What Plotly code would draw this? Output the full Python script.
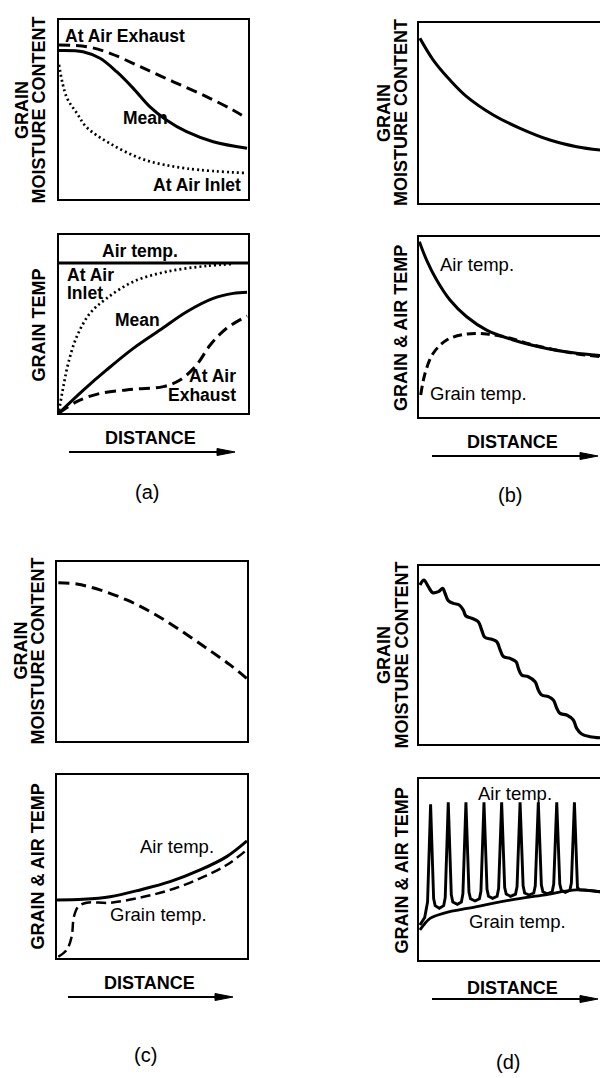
import plotly.graph_objects as go

W, H = 600, 1078

# ---------------- data (relative distance 0..1, relative level 0..1) ----------------
# (a) grain moisture content
a_mc_exhaust_x = [0.0, 0.147, 0.27, 0.43, 0.605, 0.78, 0.92, 0.995]
a_mc_exhaust_y = [0.86, 0.851, 0.814, 0.739, 0.655, 0.572, 0.497, 0.45]
a_mc_mean_x = [0.0, 0.127, 0.217, 0.305, 0.393, 0.48, 0.57, 0.675, 0.816, 0.995]
a_mc_mean_y = [0.83, 0.823, 0.786, 0.711, 0.618, 0.516, 0.44, 0.376, 0.32, 0.283]
a_mc_inlet_x = [0.0, 0.04, 0.094, 0.147, 0.27, 0.45, 0.68, 0.995]
a_mc_inlet_y = [0.75, 0.57, 0.48, 0.40, 0.31, 0.22, 0.17, 0.145]
# (a) grain temperature
a_air_x = [0.0, 1.0]
a_air_y = [0.843, 0.843]
a_t_inlet_x = [0.0, 0.023, 0.049, 0.094, 0.164, 0.252, 0.393, 0.57, 0.78, 0.92]
a_t_inlet_y = [0.013, 0.148, 0.279, 0.429, 0.56, 0.644, 0.738, 0.794, 0.826, 0.837]
a_t_mean_x = [0.0, 0.129, 0.252, 0.393, 0.534, 0.676, 0.816, 0.922, 0.995]
a_t_mean_y = [0.0, 0.129, 0.242, 0.363, 0.466, 0.569, 0.644, 0.672, 0.678]
a_t_exhaust_x = [0.0, 0.094, 0.217, 0.393, 0.552, 0.64, 0.728, 0.80, 0.887, 0.995]
a_t_exhaust_y = [0.0, 0.064, 0.11, 0.133, 0.148, 0.185, 0.27, 0.382, 0.476, 0.545]

# (b)
b_mc_x = [0.005, 0.075, 0.163, 0.251, 0.391, 0.532, 0.689, 0.83, 0.953]
b_mc_y = [0.915, 0.794, 0.683, 0.591, 0.489, 0.415, 0.35, 0.313, 0.294]
b_air_x = [0.002, 0.04, 0.093, 0.163, 0.251, 0.356, 0.496, 0.672, 0.812, 0.953]
b_air_y = [0.974, 0.872, 0.761, 0.65, 0.557, 0.483, 0.428, 0.381, 0.357, 0.341]
b_grain_x = [0.009, 0.032, 0.075, 0.146, 0.251, 0.356, 0.461, 0.602, 0.812, 0.953]
b_grain_y = [0.122, 0.243, 0.354, 0.428, 0.461, 0.461, 0.443, 0.40, 0.354, 0.335]

# (c)
c_mc_x = [0.007, 0.104, 0.226, 0.367, 0.507, 0.647, 0.788, 0.911, 0.998]
c_mc_y = [0.884, 0.877, 0.844, 0.788, 0.713, 0.62, 0.518, 0.425, 0.35]
c_air_x = [0.0, 0.138, 0.279, 0.437, 0.595, 0.753, 0.893, 1.0]
c_air_y = [0.317, 0.321, 0.335, 0.372, 0.417, 0.481, 0.554, 0.64]
c_grain_x = [0.007, 0.051, 0.077, 0.089, 0.112, 0.156, 0.279, 0.437, 0.595, 0.753, 0.893, 0.998]
c_grain_y = [0.007, 0.044, 0.116, 0.226, 0.28, 0.302, 0.302, 0.33, 0.372, 0.435, 0.508, 0.59]

# (d)
d_mc_x = [0.005, 0.026, 0.049, 0.072, 0.102, 0.125, 0.137, 0.154, 0.181, 0.212, 0.233,
          0.247, 0.277, 0.312, 0.330, 0.347, 0.383, 0.409, 0.426, 0.444, 0.479, 0.511,
          0.523, 0.540, 0.575, 0.611, 0.628, 0.646, 0.681, 0.707, 0.725, 0.742, 0.777,
          0.812, 0.830, 0.856, 0.900, 0.953]
d_mc_y = [0.893, 0.921, 0.884, 0.850, 0.856, 0.875, 0.847, 0.805, 0.790, 0.781, 0.753,
          0.719, 0.706, 0.687, 0.640, 0.599, 0.588, 0.575, 0.532, 0.491, 0.481, 0.462,
          0.425, 0.388, 0.378, 0.350, 0.303, 0.275, 0.266, 0.247, 0.201, 0.172, 0.163,
          0.135, 0.088, 0.056, 0.041, 0.035]
d_air_x = [0.005, 0.030, 0.045, 0.061, 0.077,
           0.085, 0.107, 0.130, 0.138, 0.154, 0.170,
           0.178, 0.202, 0.223, 0.231, 0.247, 0.263,
           0.271, 0.295, 0.318, 0.326, 0.342, 0.358,
           0.366, 0.388, 0.411, 0.419, 0.435, 0.451,
           0.459, 0.482, 0.508, 0.516, 0.532, 0.548,
           0.556, 0.579, 0.604, 0.612, 0.628, 0.644,
           0.652, 0.675, 0.701, 0.709, 0.725, 0.741,
           0.749, 0.770, 0.794, 0.802, 0.818, 0.834,
           0.845, 0.870, 0.953]
d_air_y = [0.193, 0.235, 0.32, 0.86, 0.34,
           0.30, 0.286, 0.30, 0.345, 0.871, 0.36,
           0.32, 0.308, 0.32, 0.365, 0.871, 0.375,
           0.338, 0.326, 0.338, 0.38, 0.871, 0.39,
           0.352, 0.341, 0.352, 0.395, 0.871, 0.40,
           0.364, 0.352, 0.364, 0.405, 0.871, 0.41,
           0.37, 0.359, 0.37, 0.41, 0.871, 0.415,
           0.377, 0.366, 0.377, 0.42, 0.871, 0.42,
           0.385, 0.374, 0.385, 0.425, 0.871, 0.40,
           0.388, 0.387, 0.377]
d_grain_x = [0.005, 0.032, 0.058, 0.128, 0.304, 0.479, 0.654, 0.830, 0.953]
d_grain_y = [0.166, 0.203, 0.230, 0.258, 0.295, 0.331, 0.359, 0.387, 0.377]

# ---------------- layout geometry (pixels) ----------------
FONT = "Liberation Sans, Arial, Helvetica, sans-serif"
panels = [
    dict(left=59, right=248, top=20, bottom=199),    # a top
    dict(left=59, right=248, top=235, bottom=413),   # a bottom
    dict(left=419, right=609, top=23, bottom=203),   # b top
    dict(left=419, right=609, top=237, bottom=417),  # b bottom
    dict(left=57, right=247, top=562, bottom=741),   # c top
    dict(left=57, right=247, top=775, bottom=958),   # c bottom
    dict(left=419, right=609, top=566, bottom=744),  # d top
    dict(left=419, right=609, top=779, bottom=960),  # d bottom
]


def X(px):
    return px / W


def Y(py):
    return 1 - py / H


fig = go.Figure()
layout = dict(width=W, height=H, margin=dict(l=0, r=0, t=0, b=0),
              paper_bgcolor="white", plot_bgcolor="white", showlegend=False)

for i, p in enumerate(panels, start=1):
    xa = "xaxis" if i == 1 else f"xaxis{i}"
    ya = "yaxis" if i == 1 else f"yaxis{i}"
    cut = p["right"] > W
    x_hi = min(p["right"], W)
    xr = (x_hi - p["left"]) / (p["right"] - p["left"])
    common = dict(showline=True, linecolor="black", linewidth=2, showgrid=False,
                  zeroline=False, showticklabels=False, ticks="", fixedrange=True)
    layout[xa] = dict(domain=[X(p["left"]), X(x_hi)], range=[0, xr], mirror=True,
                      anchor=f"y{i}", **common)
    layout[ya] = dict(domain=[Y(p["bottom"]), Y(p["top"])], range=[0, 1],
                      mirror=not cut, anchor=f"x{i}", **common)

SOLID = None
DASH = "11px,6px"
DOT = "2px,3px"


def add(x, y, panel, dash=SOLID, width=3.0, shape="spline"):
    line = dict(color="black", width=width, shape=shape)
    if shape == "spline":
        line["smoothing"] = 1.0
    if dash:
        line["dash"] = dash
    fig.add_trace(go.Scatter(x=x, y=y, mode="lines", line=line,
                             xaxis=f"x{panel}", yaxis=f"y{panel}",
                             hoverinfo="skip", showlegend=False))


add(a_mc_exhaust_x, a_mc_exhaust_y, 1, DASH)
add(a_mc_mean_x, a_mc_mean_y, 1)
add(a_mc_inlet_x, a_mc_inlet_y, 1, DOT, 2.7)
add(a_air_x, a_air_y, 2, shape="linear")
add(a_t_inlet_x, a_t_inlet_y, 2, DOT, 2.7)
add(a_t_mean_x, a_t_mean_y, 2)
add(a_t_exhaust_x, a_t_exhaust_y, 2, DASH)
add(b_mc_x, b_mc_y, 3)
add(b_air_x, b_air_y, 4)
add(b_grain_x, b_grain_y, 4, "9px,5px")
add(c_mc_x, c_mc_y, 5, DASH)
add(c_air_x, c_air_y, 6)
add(c_grain_x, c_grain_y, 6, "10px,5px", 2.5)
add(d_mc_x, d_mc_y, 7, width=3.2)
add(d_air_x, d_air_y, 8, width=2.9, shape="linear")
add(d_grain_x, d_grain_y, 8, width=2.8)

ann = []


def label(text, panel, x, y, xanchor="center", size=18, bold=False):
    ann.append(dict(text=f"<b>{text}</b>" if bold else text, xref=f"x{panel}", yref=f"y{panel}",
                    x=x, y=y, xanchor=xanchor, yanchor="middle", showarrow=False,
                    font=dict(family=FONT, size=size, color="black")))


def ptext(text, px, py, size=18, bold=True, angle=0):
    ann.append(dict(text=f"<b>{text}</b>" if bold else text, xref="paper", yref="paper",
                    x=X(px), y=Y(py), xanchor="center", yanchor="middle", showarrow=False,
                    textangle=angle, font=dict(family=FONT, size=size, color="black")))


# in-plot labels (a)
label("At Air Exhaust", 1, 0.02, 0.91, "left", 17.5, True)
label("Mean", 1, 0.455, 0.45, "center", 17.5, True)
label("At Air Inlet", 1, 0.974, 0.078, "right", 17.5, True)
label("Air temp.", 2, 0.43, 0.91, "center", 17.5, True)
label("At Air", 2, 0.032, 0.775, "left", 17.5, True)
label("Inlet", 2, 0.032, 0.674, "left", 17.5, True)
label("Mean", 2, 0.413, 0.522, "center", 17.5, True)
label("At Air", 2, 0.947, 0.208, "right", 17.5, True)
label("Exhaust", 2, 0.947, 0.101, "right", 17.5, True)
# (b)
label("Air temp.", 4, 0.10, 0.85, "left", 18.5)
label("Grain temp.", 4, 0.047, 0.128, "left", 18.5)
# (c)
label("Air temp.", 6, 0.632, 0.607, "center", 18.5)
label("Grain temp.", 6, 0.532, 0.235, "center", 18.5)
# (d)
label("Air temp.", 8, 0.505, 0.92, "center", 18.5)
label("Grain temp.", 8, 0.521, 0.212, "center", 18.5)

# axis titles (rotated)
ptext("GRAIN", 22, 110, angle=-90)
ptext("MOISTURE CONTENT", 38.5, 110, angle=-90)
ptext("GRAIN TEMP", 38.5, 325, angle=-90)
ptext("GRAIN", 384, 113, angle=-90)
ptext("MOISTURE CONTENT", 401, 113, angle=-90)
ptext("GRAIN &amp; AIR TEMP", 401, 328, angle=-90)
ptext("GRAIN", 20.5, 651, angle=-90)
ptext("MOISTURE CONTENT", 37.5, 651, angle=-90)
ptext("GRAIN &amp; AIR TEMP", 37.5, 867, angle=-90)
ptext("GRAIN", 384, 655, angle=-90)
ptext("MOISTURE CONTENT", 401.5, 655, angle=-90)
ptext("GRAIN &amp; AIR TEMP", 401.5, 871, angle=-90)

# DISTANCE labels and panel letters
ptext("DISTANCE", 150, 438)
ptext("DISTANCE", 512, 442)
ptext("DISTANCE", 149, 983)
ptext("DISTANCE", 512, 988)
ptext("(a)", 147, 492, size=20, bold=False)
ptext("(b)", 510, 495, size=20, bold=False)
ptext("(c)", 145, 1055, size=20, bold=False)
ptext("(d)", 508, 1062, size=20, bold=False)

shapes = []
arrows = [(69, 235, 452), (432, 598, 456), (68, 233, 997), (432, 598, 999)]
for x0, x1, yy in arrows:
    shapes.append(dict(type="line", xref="paper", yref="paper",
                       x0=X(x0), x1=X(x1 - 12), y0=Y(yy), y1=Y(yy),
                       line=dict(color="black", width=2)))
    shapes.append(dict(type="path", xref="paper", yref="paper",
                       path=f"M {X(x1 - 18)},{Y(yy - 3.5)} L {X(x1)},{Y(yy)} L {X(x1 - 18)},{Y(yy + 3.5)} Z",
                       fillcolor="black", line=dict(color="black", width=1)))

layout["annotations"] = ann
layout["shapes"] = shapes
fig.update_layout(**layout)
fig.write_html("out.html",
               config={"displayModeBar": False, "staticPlot": True},
               post_script="document.body.style.margin='0px';"
                           "document.body.style.overflow='hidden';")
